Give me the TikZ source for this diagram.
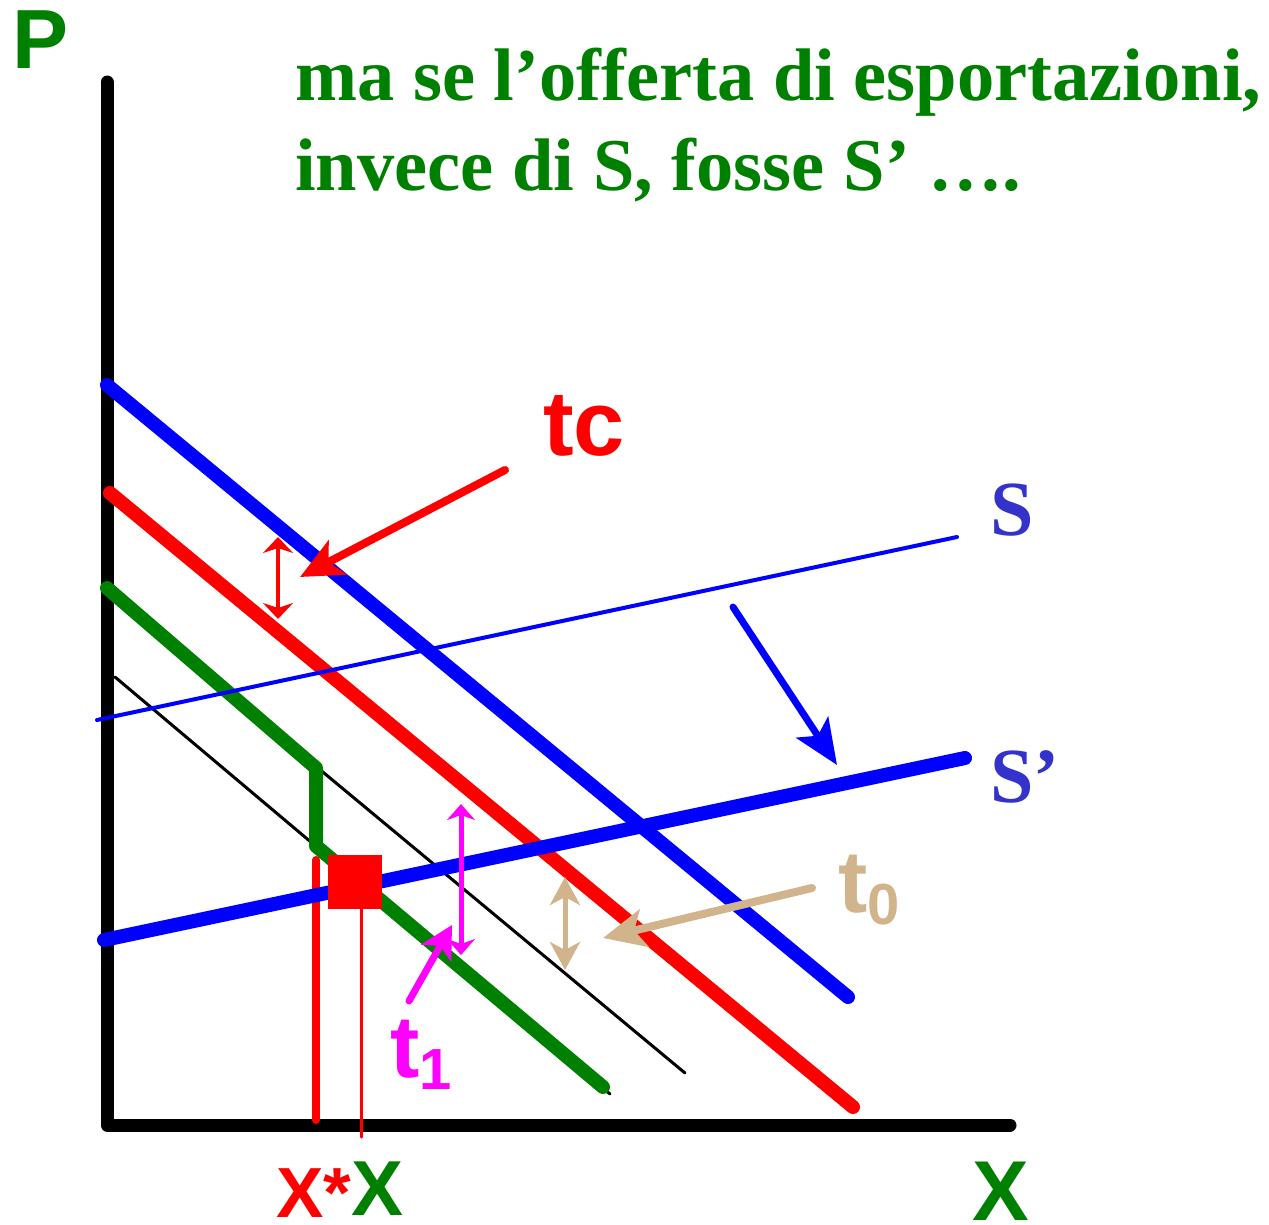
\documentclass[tikz,border=0pt]{standalone}
\usepackage{fontspec}
\setmainfont{Liberation Serif}
\setsansfont{Liberation Sans}
\usetikzlibrary{arrows.meta}
\definecolor{dgreen}{RGB}{0,128,0}
\definecolor{tancol}{RGB}{210,180,140}
\definecolor{slab}{RGB}{51,51,204}
\definecolor{mag}{RGB}{255,0,255}
\begin{document}
\begin{tikzpicture}[x=1pt,y=-1pt,line cap=round,line join=round,
  axis/.style={line width=13pt,black},
  thickcurve/.style={line width=14pt},
  thinblack/.style={line width=3pt,black},
  lbl/.style={inner sep=0pt,font=\sffamily\bfseries\fontsize{84}{84}\selectfont},
  slbl/.style={inner sep=0pt,text=slab,font=\rmfamily\bfseries\fontsize{78}{78}\selectfont},
  title/.style={inner sep=0pt,anchor=base west,text=dgreen,font=\rmfamily\bfseries\fontsize{74.5}{74.5}\selectfont},
  bigarrow/.style={-{Stealth[length=42pt,width=38pt,inset=10pt]}},
  dblarrow/.style={{Stealth[length=16pt,width=30pt,inset=5pt]}-{Stealth[length=16pt,width=30pt,inset=5pt]}}
]
\useasboundingbox (0,0) rectangle (1269,1224);

% axes
\coordinate (ytop) at (107,82);
\coordinate (orig) at (107,1125);
\coordinate (xend) at (1010,1125);
\draw[axis] (ytop) -- (orig) -- (xend);

% thin black demand lines
\coordinate (k1a) at (115,677);
\coordinate (k1b) at (610,1094);
\coordinate (k2a) at (318,768);
\coordinate (k2b) at (685,1073);
\draw[thinblack] (k1a) -- (k1b);
\draw[thinblack] (k2a) -- (k2b);

% red vertical lines
\coordinate (rv1a) at (316,860);
\coordinate (rv1b) at (316,1120);
\coordinate (rv2a) at (361,890);
\coordinate (rv2b) at (361,1137);
\draw[red,line width=8pt] (rv1a) -- (rv1b);
\draw[red,line width=3pt] (rv2a) -- (rv2b);

% blue top demand
\coordinate (b1) at (107,385);
\coordinate (b2) at (848,997);
\draw[thickcurve,blue] (b1) -- (b2);
% red demand
\coordinate (r1) at (110,493);
\coordinate (r2) at (853,1107);
\draw[thickcurve,red] (r1) -- (r2);
% green kinked
\coordinate (g1) at (107,588);
\coordinate (g2) at (316,768);
\coordinate (g3) at (316,846);
\coordinate (g4) at (603,1087);
\draw[thickcurve,dgreen] (g1) -- (g2) -- (g3) -- (g4);

% supply S and S'
\coordinate (s1) at (97,720);
\coordinate (s2) at (957,537);
\draw[blue,line width=4pt] (s1) -- (s2);
\coordinate (sp1) at (104,940);
\coordinate (sp2) at (965,758);
\draw[thickcurve,blue] (sp1) -- (sp2);

% equilibrium square
\node[fill=red,minimum size=54pt,inner sep=0pt] (eq) at (355,882) {};

% shift arrow
\coordinate (sh1) at (733,607);
\coordinate (sh2) at (837,765);
\draw[blue,line width=7pt,-{Stealth[length=45pt,width=38pt,inset=10pt]}] (sh1) -- (sh2);

% tc arrows
\coordinate (tca) at (278,537);
\coordinate (tcb) at (278,619);
\draw[red,line width=4pt,dblarrow] (tca) -- (tcb);
\coordinate (tcs) at (505,470);
\coordinate (tct) at (300,577);
\draw[red,line width=8pt,bigarrow] (tcs) -- (tct);

% t1 arrows
\coordinate (t1a) at (461,804);
\coordinate (t1b) at (461,955);
\draw[mag,line width=5pt,{Stealth[length=16pt,width=28pt,inset=5pt]}-{Stealth[length=16pt,width=28pt,inset=5pt]}] (t1a) -- (t1b);
\coordinate (t1s) at (409,1001);
\coordinate (t1t) at (452,925);
\draw[mag,line width=7pt,-{Stealth[length=32pt,width=34pt,inset=8pt]}] (t1s) -- (t1t);

% t0 arrows
\coordinate (t0a) at (565,877);
\coordinate (t0b) at (565,970);
\draw[tancol,line width=5pt,{Stealth[length=28pt,width=30pt,inset=8pt]}-{Stealth[length=28pt,width=30pt,inset=8pt]}] (t0a) -- (t0b);
\coordinate (t0s) at (812,888);
\coordinate (t0t) at (603,938);
\draw[tancol,line width=8pt,bigarrow] (t0s) -- (t0t);

% labels
\node[lbl,text=dgreen,anchor=base west] (P) at (12,68) {P};
\node[title] (ttl1) at (295,100) {ma se l’offerta di esportazioni,};
\node[title] (ttl2) at (295,190) {invece di S, fosse S’ ….};
\node[lbl,text=red,anchor=base west,font=\sffamily\bfseries\fontsize{92}{92}\selectfont] (tc) at (543,455) {tc};
\node[slbl,anchor=base west] (S) at (990,535) {S};
\node[slbl,anchor=base west] (Sp) at (990,802) {S’};
\node[lbl,text=tancol,anchor=base west,font=\sffamily\bfseries\fontsize{88}{88}\selectfont] (t0) at (838,912) {t\raisebox{-12pt}{\fontsize{58}{58}\selectfont 0}};
\node[lbl,text=mag,anchor=base west,font=\sffamily\bfseries\fontsize{88}{88}\selectfont] (t1) at (390,1077) {t\raisebox{-12pt}{\fontsize{58}{58}\selectfont 1}};
\node[lbl,text=red,anchor=base west,font=\sffamily\bfseries\fontsize{71}{71}\selectfont] (xs) at (276,1217) {X*};
\node[lbl,text=dgreen,anchor=base west,font=\sffamily\bfseries\fontsize{78}{78}\selectfont] (xg) at (351,1215) {X};
\node[lbl,text=dgreen,anchor=base west,font=\sffamily\bfseries\fontsize{85}{85}\selectfont] (xax) at (972,1220) {X};
\end{tikzpicture}
\end{document}
